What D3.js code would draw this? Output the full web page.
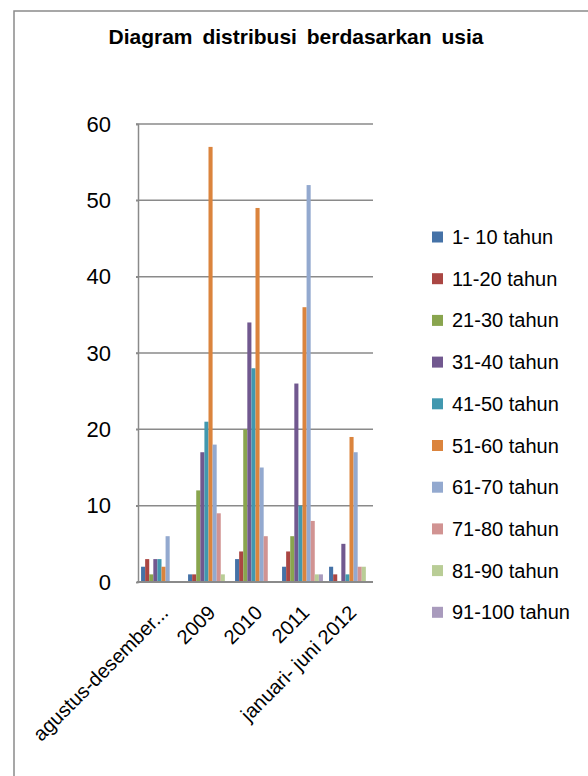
<!DOCTYPE html>
<html>
<head>
<meta charset="utf-8">
<script src="https://cdn.jsdelivr.net/npm/d3@7"></script>
<style>
  body { margin: 0; background: #fff; }
  text { font-family: "Liberation Sans", Arial, sans-serif; fill: #000; }
</style>
</head>
<body>
<div id="container"></div>
<script>
let w = 588;
let h = 776;

// data
let categories = ["agustus-desember...", "2009", "2010", "2011", "januari- juni 2012"];
let seriesNames = ["1- 10 tahun", "11-20 tahun", "21-30 tahun", "31-40 tahun", "41-50 tahun",
  "51-60 tahun", "61-70 tahun", "71-80 tahun", "81-90 tahun", "91-100 tahun"];
let colors = ["#4572A7", "#AA4643", "#89A54E", "#71588F", "#4198AF",
  "#DB843D", "#93A9CF", "#D19392", "#B9CD96", "#A99BBD"];
// one array per category, in series order
let agustusDesember = [2, 3, 1, 3, 3, 2, 6, 0, 0, 0];
let y2009 = [1, 1, 12, 17, 21, 57, 18, 9, 1, 0];
let y2010 = [3, 4, 20, 34, 28, 49, 15, 6, 0, 0];
let y2011 = [2, 4, 6, 26, 10, 36, 52, 8, 1, 1];
let januariJuni2012 = [2, 1, 0, 5, 1, 19, 17, 2, 2, 0];
let yTicks = [0, 10, 20, 30, 40, 50, 60];

let values = [agustusDesember, y2009, y2010, y2011, januariJuni2012];

let plotLeft = 138, plotRight = 373, plotTop = 124, plotBottom = 582;

let viz = d3.select("#container")
  .append("svg")
  .attr("width", w)
  .attr("height", h);

// outer frame
viz.append("rect")
  .attr("x", 14).attr("y", 11)
  .attr("width", w + 20).attr("height", h + 20)
  .attr("fill", "none")
  .attr("stroke", "#8a8a8a")
  .attr("stroke-width", 1.5);

viz.append("text")
  .attr("x", 296).attr("y", 44)
  .attr("text-anchor", "middle")
  .style("font-size", "21px")
  .style("font-weight", "bold")
  .style("word-spacing", "4px")
  .text("Diagram distribusi berdasarkan usia");

let x0 = d3.scaleBand().domain(categories).range([plotLeft, plotRight]);
// excel style gap width 150%
let gap = x0.bandwidth() * 0.75 / 11.5;
let x1 = d3.scaleBand().domain(seriesNames)
  .range([gap, x0.bandwidth() - gap]);
let y = d3.scaleLinear().domain([0, 60]).range([plotBottom, plotTop]);

// gridlines
viz.append("g").selectAll("line").data(yTicks.slice(1)).enter()
  .append("line")
  .attr("x1", plotLeft - 2).attr("x2", plotRight)
  .attr("y1", d => y(d)).attr("y2", d => y(d))
  .attr("stroke", "#8a8a8a")
  .attr("stroke-width", 1.5);

let yAxis = viz.append("g")
  .attr("transform", `translate(${plotLeft},0)`)
  .call(d3.axisLeft(y).tickValues(yTicks).tickSize(2).tickPadding(25));
yAxis.select(".domain").attr("stroke", "#8a8a8a").attr("stroke-width", 1.5);
yAxis.selectAll(".tick line").attr("stroke", "#8a8a8a").attr("stroke-width", 1.5);
yAxis.selectAll("text").style("font-size", "22px").attr("fill", "#000")
  .style("font-family", "Liberation Sans, Arial, sans-serif");

// bars
let groups = viz.append("g").selectAll("g").data(categories).enter()
  .append("g")
  .attr("transform", d => `translate(${x0(d)},0)`);

groups.selectAll("rect")
  .data((d, i) => values[i].map((v, j) => ({ name: seriesNames[j], value: v, color: colors[j] })))
  .enter()
  .append("rect")
  .attr("x", d => x1(d.name))
  .attr("width", x1.bandwidth())
  .attr("y", d => y(d.value))
  .attr("height", d => plotBottom - y(d.value))
  .attr("fill", d => d.color);

// baseline
viz.append("line")
  .attr("x1", plotLeft - 1).attr("x2", plotRight)
  .attr("y1", plotBottom).attr("y2", plotBottom)
  .attr("stroke", "#8a8a8a")
  .attr("stroke-width", 2);

// category labels, rotated
viz.append("g").selectAll("text").data(categories).enter()
  .append("text")
  .attr("transform", d => `translate(${x0(d) + x0.bandwidth() / 2 + 8},${614}) rotate(-45)`)
  .attr("text-anchor", "end")
  .style("font-size", "20px")
  .text(d => d);

// legend
let legend = viz.append("g").selectAll("g").data(seriesNames).enter()
  .append("g")
  .attr("transform", (d, i) => `translate(432,${237 + i * 41.7})`);

legend.append("rect")
  .attr("x", 0).attr("y", -5.5)
  .attr("width", 11).attr("height", 11)
  .attr("fill", (d, i) => colors[i]);

legend.append("text")
  .attr("x", 20).attr("y", 7)
  .style("font-size", "20px")
  .text(d => d);
</script>
</body>
</html>
